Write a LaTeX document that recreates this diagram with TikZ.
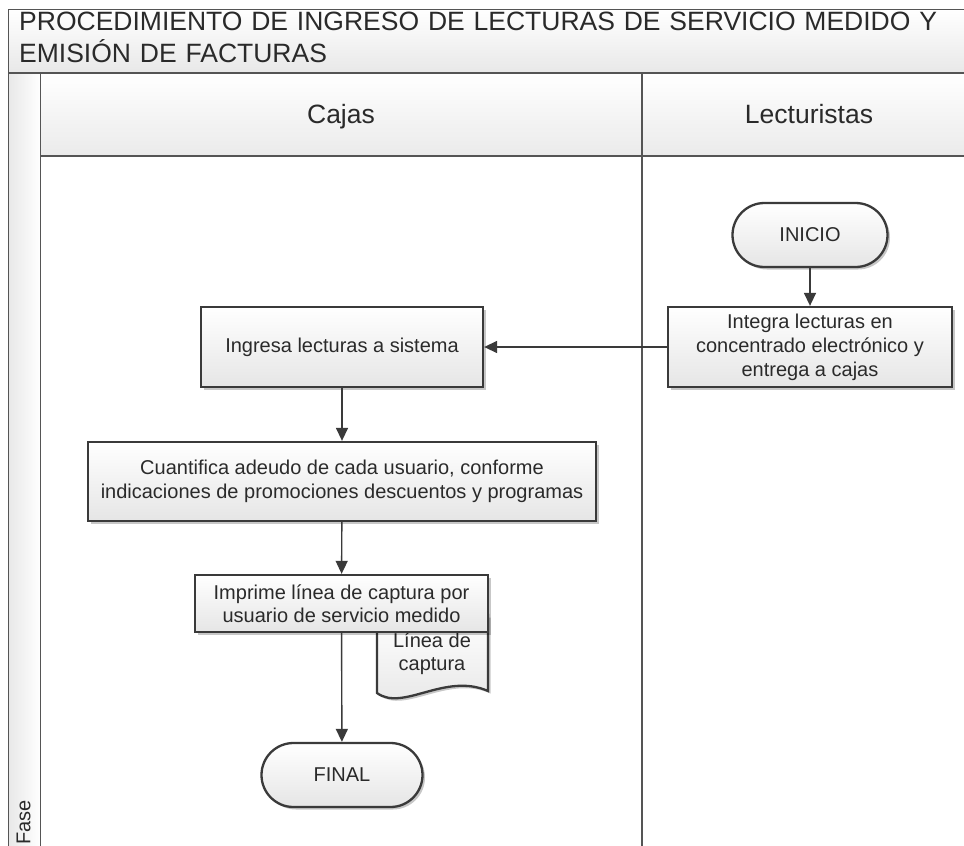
\documentclass[tikz,border=0pt]{standalone}
\usepackage{fontspec}
\setmainfont{Liberation Sans}
\usetikzlibrary{arrows.meta,shadows,shapes.misc}
\definecolor{lanec}{HTML}{555555}
\definecolor{boxc}{HTML}{3A3A3A}
\definecolor{txtc}{HTML}{2A2A2A}
\tikzset{
  procbox/.style={draw=boxc, line width=2.3pt, top color=white, bottom color=black!10,
    drop shadow={shadow xshift=2.5pt, shadow yshift=-2.5pt, fill=black, opacity=0.22},
    align=center, font=\fontsize{20}{24}\selectfont, text=txtc, inner sep=0pt},
  termbox/.style={procbox, rounded corners=32pt},
  flowarrow/.style={draw=boxc, line width=1.4pt, -{Triangle[length=13pt,width=12pt]}},
  laneline/.style={draw=lanec, line width=1.5pt},
  hdr/.style={font=\fontsize{26.5}{32}\selectfont, text=txtc, inner sep=0pt}
}
\begin{document}
\begin{tikzpicture}[x=1pt,y=1pt]
\useasboundingbox (0,0) rectangle (964,-846);
\clip (0,0) rectangle (964,-846);
\fill[white] (0,0) rectangle (964,-846);
% title band
\shade[top color=white, bottom color=black!9] (8.5,-9.5) rectangle (980,-73);
% header band
\shade[top color=white, bottom color=black!8] (40.5,-73) rectangle (980,-156);
% fase strip
\shade[left color=black!9, right color=white] (8.5,-73) rectangle (40.5,-860);
% frame lines
\draw[laneline] (980,-9.5) -- (8.5,-9.5) -- (8.5,-860);
\draw[laneline] (8.5,-73) -- (980,-73);
\draw[laneline] (40.5,-73) -- (40.5,-860);
\draw[laneline] (40.5,-156) -- (980,-156);
\draw[laneline] (642,-73) -- (642,-860);
% texts
\node[hdr, anchor=north west, align=left, text width=940pt] (title) at (19,-12)
  {PROCEDIMIENTO DE INGRESO DE LECTURAS DE SERVICIO MEDIDO Y\\EMISIÓN DE FACTURAS};
\node[hdr, anchor=base] (cajas) at (341,-123) {Cajas};
\node[hdr, anchor=base] (lect) at (809,-123) {Lecturistas};
\node[font=\fontsize{20}{24}\selectfont, text=txtc, rotate=90, anchor=east, inner sep=0pt] (fase) at (23.5,-800) {Fase};
% document shape
\path[draw=boxc, line width=2.3pt, top color=white, bottom color=black!10,
  drop shadow={shadow xshift=2.5pt, shadow yshift=-2.5pt, fill=black, opacity=0.22}]
  (377,-615) -- (377,-693) .. controls (403,-712) and (445,-672) .. (488,-691) -- (488,-615) -- cycle;
\node[align=center, font=\fontsize{20}{23}\selectfont, text=txtc, inner sep=0pt] (doc) at (432,-654) {Línea de\\captura};
% nodes
\node[termbox, minimum width=155pt, minimum height=64pt] (inicio) at (810,-235) {INICIO};
\node[procbox, minimum width=284pt, minimum height=80pt] (integra) at (810,-347)
  {Integra lecturas en\\concentrado electrónico y\\entrega a cajas};
\node[procbox, minimum width=282pt, minimum height=80pt] (ingresa) at (342,-347)
  {Ingresa lecturas a sistema};
\node[procbox, minimum width=508pt, minimum height=79pt] (cuant) at (342,-481.5)
  {Cuantifica adeudo de cada usuario, conforme\\indicaciones de promociones descuentos y programas};
\node[procbox, minimum width=293pt, minimum height=57pt, font=\fontsize{20}{23}\selectfont] (imprime) at (341.5,-603.5)
  {Imprime línea de captura por\\usuario de servicio medido};
\node[termbox, minimum width=161pt, minimum height=64pt] (final) at (342,-775) {FINAL};
% connectors
\draw[flowarrow] (inicio) -- (integra);
\draw[flowarrow] (integra) -- (ingresa);
\draw[flowarrow] (ingresa) -- (cuant);
\draw[flowarrow] (cuant) -- (imprime);
\draw[flowarrow] (imprime) -- (final);
\end{tikzpicture}
\end{document}
